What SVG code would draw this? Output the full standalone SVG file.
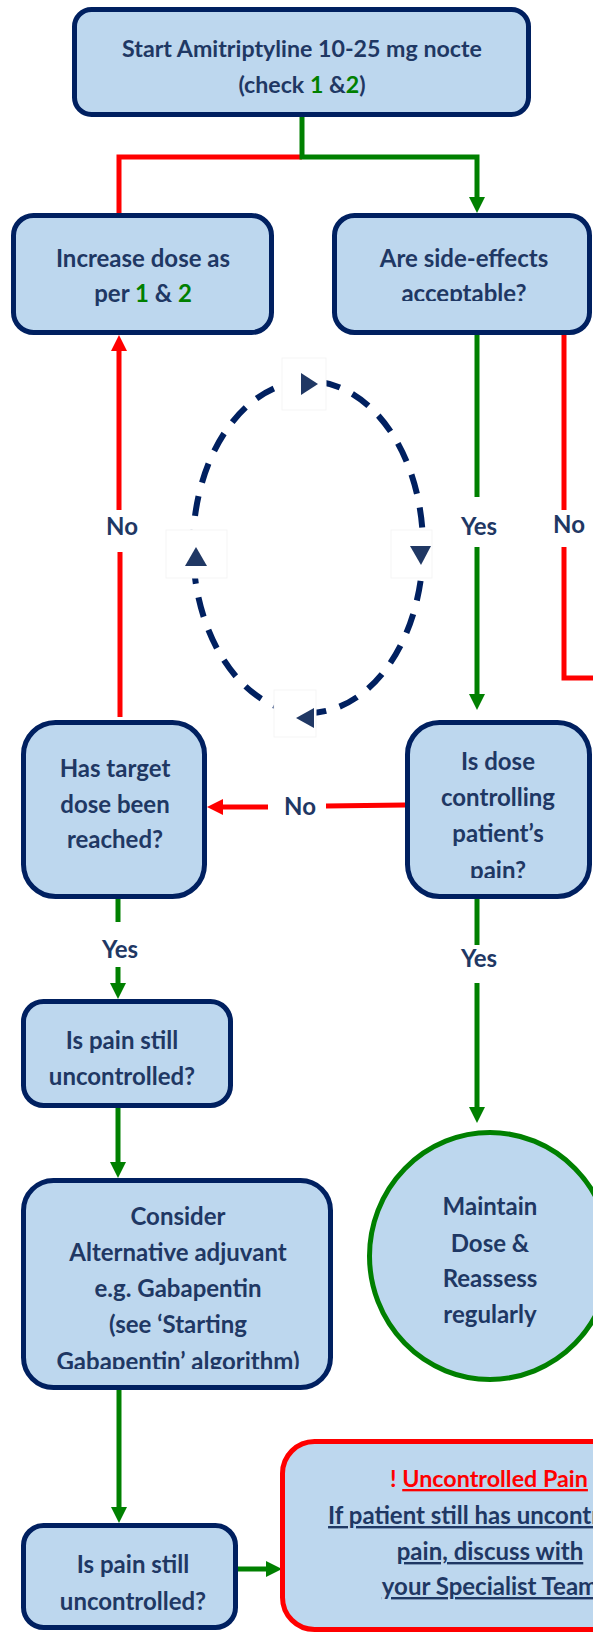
<svg xmlns="http://www.w3.org/2000/svg" width="593" height="1632" viewBox="0 0 593 1632">
<style>
.box{fill:#bdd7ee;stroke:#002060;stroke-width:5}
.t{font-family:Lato,"Open Sans","Liberation Sans",sans-serif;font-weight:700;font-size:24px;fill:#1f3864;text-anchor:middle}
.g{fill:#008000}
.lg{stroke:#008000;stroke-width:5;fill:none}
.lr{stroke:#ff0000;stroke-width:5;fill:none}
.tri{fill:#203864}
.abox{fill:#ffffff;stroke:#f5f5f5;stroke-width:1}
</style>
<defs>
<marker id="ag" markerUnits="userSpaceOnUse" markerWidth="16" markerHeight="16" refX="8" refY="8" orient="auto"><path d="M0,0 L16,8 L0,16 z" fill="#008000"/></marker>
<marker id="ar" markerUnits="userSpaceOnUse" markerWidth="16" markerHeight="16" refX="8" refY="8" orient="auto"><path d="M0,0 L16,8 L0,16 z" fill="#ff0000"/></marker>
<clipPath id="c1"><rect x="330" y="200" width="270" height="101"/></clipPath>
<clipPath id="c2"><rect x="400" y="700" width="200" height="178"/></clipPath>
<clipPath id="c3"><rect x="15" y="1170" width="330" height="199"/></clipPath>
</defs>

<g id="connectors">
<path class="lr" d="M302,157 H119 V213"/>
<path class="lg" d="M302,117 V157 H477 V205" marker-end="url(#ag)"/>
<path class="lr" d="M120,717 V552"/>
<path class="lr" d="M119,510 V343" marker-end="url(#ar)"/>
<path class="lg" d="M477,335 V497"/>
<path class="lg" d="M477,547 V702" marker-end="url(#ag)"/>
<path class="lr" d="M564,335 V510"/>
<path class="lr" d="M564,547 V678 H600"/>
<path class="lr" d="M405,805 L326,806"/>
<path class="lr" d="M268,807 H215" marker-end="url(#ar)"/>
<path class="lg" d="M118,899 V922"/>
<path class="lg" d="M118,967 V991" marker-end="url(#ag)"/>
<path class="lg" d="M477,899 V945"/>
<path class="lg" d="M477,983 V1115" marker-end="url(#ag)"/>
<path class="lg" d="M118,1108 V1170" marker-end="url(#ag)"/>
<path class="lg" d="M119,1390 V1515" marker-end="url(#ag)"/>
<path class="lg" d="M238,1569 H274" marker-end="url(#ag)"/>
<text class="t" x="122" y="535">No</text>
<text class="t" x="479" y="535">Yes</text>
<text class="t" x="569" y="533">No</text>
<text class="t" x="300" y="815">No</text>
<text class="t" x="120" y="958">Yes</text>
<text class="t" x="479" y="967">Yes</text>
</g>

<g id="cycle">
<ellipse cx="308" cy="547" rx="115" ry="166" fill="none" stroke="#002060" stroke-width="6" stroke-dasharray="20 14"/>
<rect class="abox" x="282" y="358" width="44" height="52"/>
<rect class="abox" x="391" y="530" width="41" height="48"/>
<rect class="abox" x="166" y="530" width="61" height="48"/>
<rect class="abox" x="274" y="690" width="42" height="47"/>
<path class="tri" d="M301,373 L318,384 L301,395 z"/>
<path class="tri" d="M410,546 L431,546 L421,565 z"/>
<path class="tri" d="M185,566 L207,566 L196,547 z"/>
<path class="tri" d="M314,708 L314,728 L296,718 z"/>
</g>

<g id="start">
<rect class="box" x="74.5" y="9.5" width="454" height="105" rx="17"/>
<text class="t" x="302" y="57" style="font-size:23.2px">Start Amitriptyline 10-25 mg nocte</text>
<text class="t" x="302" y="93" style="font-size:23.2px">(check <tspan class="g">1</tspan> &amp;<tspan class="g">2</tspan>)</text>
</g>

<g id="increase">
<rect class="box" x="13.5" y="215.5" width="258" height="117" rx="20"/>
<text class="t" x="143" y="267">Increase dose as</text>
<text class="t" x="143" y="302">per <tspan class="g">1</tspan> &amp; <tspan class="g">2</tspan></text>
</g>

<g id="sideeffects">
<rect class="box" x="334.5" y="215.5" width="255" height="117" rx="20"/>
<text class="t" x="464" y="267">Are side-effects</text>
<text class="t" x="464" y="302" clip-path="url(#c1)">acceptable?</text>
</g>

<g id="target">
<rect class="box" x="23.5" y="722.5" width="181" height="174" rx="32"/>
<text class="t" x="115" y="777">Has target</text>
<text class="t" x="115" y="813">dose been</text>
<text class="t" x="115" y="848">reached?</text>
</g>

<g id="controlling">
<rect class="box" x="407.5" y="722.5" width="182" height="174" rx="32"/>
<text class="t" x="498" y="770">Is dose</text>
<text class="t" x="498" y="806">controlling</text>
<text class="t" x="498" y="842">patient’s</text>
<text class="t" x="498" y="879" clip-path="url(#c2)">pain?</text>
</g>

<g id="uncontrolled1">
<rect class="box" x="23.5" y="1001.5" width="207" height="104" rx="20"/>
<text class="t" x="122" y="1049">Is pain still</text>
<text class="t" x="122" y="1085">uncontrolled?</text>
</g>

<g id="consider">
<rect class="box" x="23.5" y="1180.5" width="307" height="207" rx="30"/>
<text class="t" x="178" y="1225">Consider</text>
<text class="t" x="178" y="1261">Alternative adjuvant</text>
<text class="t" x="178" y="1297">e.g. Gabapentin</text>
<text class="t" x="178" y="1333">(see ‘Starting</text>
<text class="t" x="178" y="1370" clip-path="url(#c3)">Gabapentin’ algorithm)</text>
</g>

<g id="maintain">
<ellipse cx="490" cy="1256" rx="120.5" ry="123.5" fill="#bdd7ee" stroke="#008000" stroke-width="5"/>
<text class="t" x="490" y="1215">Maintain</text>
<text class="t" x="490" y="1252">Dose &amp;</text>
<text class="t" x="490" y="1287">Reassess</text>
<text class="t" x="490" y="1323">regularly</text>
</g>

<g id="uncontrolled2">
<rect class="box" x="23.5" y="1525.5" width="212" height="102" rx="20"/>
<text class="t" x="133" y="1573">Is pain still</text>
<text class="t" x="133" y="1610">uncontrolled?</text>
</g>

<g id="specialist">
<rect x="282.5" y="1441.5" width="400" height="188" rx="32" fill="#bdd7ee" stroke="#ff0000" stroke-width="5"/>
<text class="t" x="390" y="1487" style="fill:#ff0000;text-anchor:start;font-size:23.3px">! <tspan text-decoration="underline">Uncontrolled Pain</tspan></text>
<text class="t" x="490" y="1524" text-decoration="underline">If patient still has uncontrolled</text>
<text class="t" x="490" y="1560" text-decoration="underline">pain, discuss with</text>
<text class="t" x="490" y="1595" text-decoration="underline">your Specialist Team</text>
</g>
</svg>
